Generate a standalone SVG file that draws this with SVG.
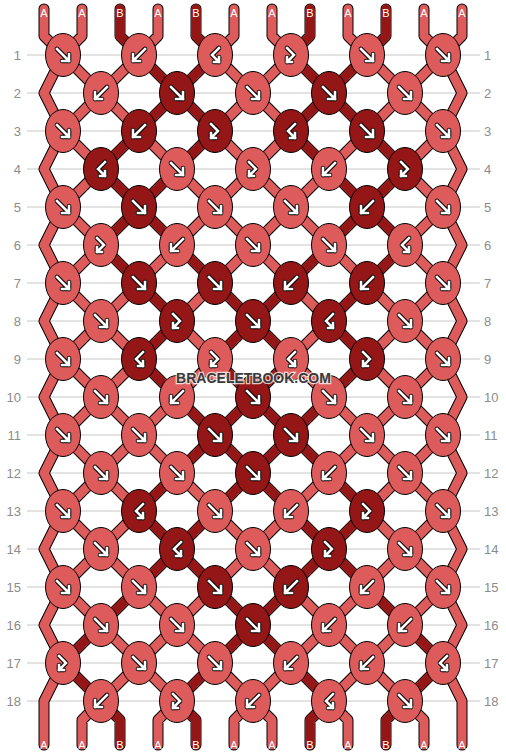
<svg xmlns="http://www.w3.org/2000/svg" xmlns:xlink="http://www.w3.org/1999/xlink" width="506" height="756" viewBox="0 0 506 756">
<style>
.grid line{stroke:#c6c6c6;stroke-width:1}
.rn{font-family:"Liberation Sans",Arial,sans-serif;font-size:13px;fill:#8c8c8c}
.rl{text-anchor:end}
.thr{fill:none;stroke-linecap:round;stroke-linejoin:round}
.o{stroke:#000;stroke-width:11}
.a{stroke:#de5b5b;stroke-width:9}
.b{stroke:#951616;stroke-width:9}
.ab{fill:none;stroke:#000;stroke-width:4.6;stroke-linecap:round;stroke-linejoin:round}
.aw{fill:none;stroke:#fff;stroke-width:2.6;stroke-linecap:square;stroke-linejoin:miter}
.lb{font-family:"Liberation Sans",Arial,sans-serif;font-size:11px;fill:#fff;text-anchor:middle}
.wm{font-family:"Liberation Sans",Arial,sans-serif;font-size:14px;font-weight:bold;fill:#3a3a3a;stroke:#fff;stroke-opacity:.75;stroke-width:2.5;paint-order:stroke;text-anchor:middle}
</style>
<defs>
<ellipse id="ea" rx="17.5" ry="21.5" fill="#de5b5b" stroke="#000" stroke-width="1"/>
<ellipse id="eb" rx="17.5" ry="21.5" fill="#951616" stroke="#000" stroke-width="1"/>
<path id="pF" d="M-6,-6L6,6M6,-1V6H-1"/>
<path id="pB" d="M6,-6L-6,6M-6,-1V6H1"/>
<path id="pFB" d="M-4,-7L3,0L-4,7M-4,2V7H1"/>
<path id="pBF" d="M4,-7L-3,0L4,7M4,2V7H-1"/>
<g id="F"><use href="#pF" class="ab"/><use href="#pF" class="aw"/></g>
<g id="B"><use href="#pB" class="ab"/><use href="#pB" class="aw"/></g>
<g id="FB"><use href="#pFB" class="ab"/><use href="#pFB" class="aw"/></g>
<g id="BF"><use href="#pBF" class="ab"/><use href="#pBF" class="aw"/></g>
<path id="all" d="M44,9V36L63,55L82,36V9M120,9V36L139,55L158,36V9M196,9V36L215,55L234,36V9M272,9V36L291,55L310,36V9M348,9V36L367,55L386,36V9M424,9V36L443,55L462,36V9
M44,93L63,55L101,93L139,55L177,93L215,55L253,93L291,55L329,93L367,55L405,93L443,55L462,93
M44,93L63,131L101,93L139,131L177,93L215,131L253,93L291,131L329,93L367,131L405,93L443,131L462,93
M44,169L63,131L101,169L139,131L177,169L215,131L253,169L291,131L329,169L367,131L405,169L443,131L462,169
M44,169L63,207L101,169L139,207L177,169L215,207L253,169L291,207L329,169L367,207L405,169L443,207L462,169
M44,245L63,207L101,245L139,207L177,245L215,207L253,245L291,207L329,245L367,207L405,245L443,207L462,245
M44,245L63,283L101,245L139,283L177,245L215,283L253,245L291,283L329,245L367,283L405,245L443,283L462,245
M44,321L63,283L101,321L139,283L177,321L215,283L253,321L291,283L329,321L367,283L405,321L443,283L462,321
M44,321L63,359L101,321L139,359L177,321L215,359L253,321L291,359L329,321L367,359L405,321L443,359L462,321
M44,397L63,359L101,397L139,359L177,397L215,359L253,397L291,359L329,397L367,359L405,397L443,359L462,397
M44,397L63,435L101,397L139,435L177,397L215,435L253,397L291,435L329,397L367,435L405,397L443,435L462,397
M44,473L63,435L101,473L139,435L177,473L215,435L253,473L291,435L329,473L367,435L405,473L443,435L462,473
M44,473L63,511L101,473L139,511L177,473L215,511L253,473L291,511L329,473L367,511L405,473L443,511L462,473
M44,549L63,511L101,549L139,511L177,549L215,511L253,549L291,511L329,549L367,511L405,549L443,511L462,549
M44,549L63,587L101,549L139,587L177,549L215,587L253,549L291,587L329,549L367,587L405,549L443,587L462,549
M44,625L63,587L101,625L139,587L177,625L215,587L253,625L291,587L329,625L367,587L405,625L443,587L462,625
M44,625L63,663L101,625L139,663L177,625L215,663L253,625L291,663L329,625L367,663L405,625L443,663L462,625
M44,701L63,663L101,701L139,663L177,701L215,663L253,701L291,663L329,701L367,663L405,701L443,663L462,701
M44,701V745M82,745V720L101,701L120,720V745M158,745V720L177,701L196,720V745M234,745V720L253,701L272,720V745M310,745V720L329,701L348,720V745M386,745V720L405,701L424,720V745M462,701V745"/>
</defs>
<g class="grid">
<line x1="27" y1="55" x2="480" y2="55"/><line x1="27" y1="93" x2="480" y2="93"/><line x1="27" y1="131" x2="480" y2="131"/><line x1="27" y1="169" x2="480" y2="169"/><line x1="27" y1="207" x2="480" y2="207"/><line x1="27" y1="245" x2="480" y2="245"/><line x1="27" y1="283" x2="480" y2="283"/><line x1="27" y1="321" x2="480" y2="321"/><line x1="27" y1="359" x2="480" y2="359"/><line x1="27" y1="397" x2="480" y2="397"/><line x1="27" y1="435" x2="480" y2="435"/><line x1="27" y1="473" x2="480" y2="473"/><line x1="27" y1="511" x2="480" y2="511"/><line x1="27" y1="549" x2="480" y2="549"/><line x1="27" y1="587" x2="480" y2="587"/><line x1="27" y1="625" x2="480" y2="625"/><line x1="27" y1="663" x2="480" y2="663"/><line x1="27" y1="701" x2="480" y2="701"/>
</g>
<g id="row-numbers">
<text class="rn rl" x="21" y="59.5">1</text><text class="rn rl" x="21" y="97.5">2</text><text class="rn rl" x="21" y="135.5">3</text><text class="rn rl" x="21" y="173.5">4</text><text class="rn rl" x="21" y="211.5">5</text><text class="rn rl" x="21" y="249.5">6</text><text class="rn rl" x="21" y="287.5">7</text><text class="rn rl" x="21" y="325.5">8</text><text class="rn rl" x="21" y="363.5">9</text><text class="rn rl" x="21" y="401.5">10</text><text class="rn rl" x="21" y="439.5">11</text><text class="rn rl" x="21" y="477.5">12</text><text class="rn rl" x="21" y="515.5">13</text><text class="rn rl" x="21" y="553.5">14</text><text class="rn rl" x="21" y="591.5">15</text><text class="rn rl" x="21" y="629.5">16</text><text class="rn rl" x="21" y="667.5">17</text><text class="rn rl" x="21" y="705.5">18</text>
<text class="rn" x="484" y="59.5">1</text><text class="rn" x="484" y="97.5">2</text><text class="rn" x="484" y="135.5">3</text><text class="rn" x="484" y="173.5">4</text><text class="rn" x="484" y="211.5">5</text><text class="rn" x="484" y="249.5">6</text><text class="rn" x="484" y="287.5">7</text><text class="rn" x="484" y="325.5">8</text><text class="rn" x="484" y="363.5">9</text><text class="rn" x="484" y="401.5">10</text><text class="rn" x="484" y="439.5">11</text><text class="rn" x="484" y="477.5">12</text><text class="rn" x="484" y="515.5">13</text><text class="rn" x="484" y="553.5">14</text><text class="rn" x="484" y="591.5">15</text><text class="rn" x="484" y="629.5">16</text><text class="rn" x="484" y="667.5">17</text><text class="rn" x="484" y="705.5">18</text>
</g>
<g id="connectors">
<use href="#all" class="thr o"/>
<use href="#all" class="thr a"/>
<path class="thr b" d="M120,9V36L139,55M196,9V36L215,55M310,9V36L291,55M386,9V36L367,55
M139,55L177,93L215,55M291,55L329,93L367,55
M139,131L177,93L215,131M291,131L329,93L367,131
M139,131L101,169M215,131L177,169M291,131L329,169M367,131L405,169
M101,169L139,207L177,169M329,169L367,207L405,169
M101,245L139,207L177,245M329,245L367,207L405,245
M101,245L139,283M177,245L215,283M329,245L291,283M405,245L367,283
M139,283L177,321M215,283L253,321L291,283M367,283L329,321
M177,321L139,359M215,359L253,321L291,359M329,321L367,359
M139,359L177,397M215,359L253,397L291,359M367,359L329,397
M177,397L215,435L253,397L291,435L329,397
M177,473L215,435L253,473L291,435L329,473
M177,473L139,511M215,511L253,473L291,511M329,473L367,511
M139,511L177,549L215,511M291,511L329,549L367,511
M139,587L177,549L215,587M291,587L329,549L367,587
M139,587L101,625M215,587L253,625L291,587M367,587L405,625
M101,625L63,663M215,663L253,625L291,663M405,625L443,663
M63,663L101,701M215,663L177,701M291,663L329,701M443,663L405,701
M101,701L120,720V745M177,701L196,720V745M329,701L310,720V745M405,701L386,720V745"/>
</g>
<g id="knots">
<g id="k1-1" transform="translate(63,55)"><use href="#ea"/><use href="#F"/></g>
<g id="k1-2" transform="translate(139,55)"><use href="#ea"/><use href="#B"/></g>
<g id="k1-3" transform="translate(215,55)"><use href="#ea"/><use href="#BF"/></g>
<g id="k1-4" transform="translate(291,55)"><use href="#ea"/><use href="#FB"/></g>
<g id="k1-5" transform="translate(367,55)"><use href="#ea"/><use href="#F"/></g>
<g id="k1-6" transform="translate(443,55)"><use href="#ea"/><use href="#F"/></g>
<g id="k2-1" transform="translate(101,93)"><use href="#ea"/><use href="#B"/></g>
<g id="k2-2" transform="translate(177,93)"><use href="#eb"/><use href="#F"/></g>
<g id="k2-3" transform="translate(253,93)"><use href="#ea"/><use href="#F"/></g>
<g id="k2-4" transform="translate(329,93)"><use href="#eb"/><use href="#F"/></g>
<g id="k2-5" transform="translate(405,93)"><use href="#ea"/><use href="#F"/></g>
<g id="k3-1" transform="translate(63,131)"><use href="#ea"/><use href="#F"/></g>
<g id="k3-2" transform="translate(139,131)"><use href="#eb"/><use href="#B"/></g>
<g id="k3-3" transform="translate(215,131)"><use href="#eb"/><use href="#FB"/></g>
<g id="k3-4" transform="translate(291,131)"><use href="#eb"/><use href="#BF"/></g>
<g id="k3-5" transform="translate(367,131)"><use href="#eb"/><use href="#F"/></g>
<g id="k3-6" transform="translate(443,131)"><use href="#ea"/><use href="#F"/></g>
<g id="k4-1" transform="translate(101,169)"><use href="#eb"/><use href="#BF"/></g>
<g id="k4-2" transform="translate(177,169)"><use href="#ea"/><use href="#F"/></g>
<g id="k4-3" transform="translate(253,169)"><use href="#ea"/><use href="#FB"/></g>
<g id="k4-4" transform="translate(329,169)"><use href="#ea"/><use href="#B"/></g>
<g id="k4-5" transform="translate(405,169)"><use href="#eb"/><use href="#FB"/></g>
<g id="k5-1" transform="translate(63,207)"><use href="#ea"/><use href="#F"/></g>
<g id="k5-2" transform="translate(139,207)"><use href="#eb"/><use href="#F"/></g>
<g id="k5-3" transform="translate(215,207)"><use href="#ea"/><use href="#F"/></g>
<g id="k5-4" transform="translate(291,207)"><use href="#ea"/><use href="#F"/></g>
<g id="k5-5" transform="translate(367,207)"><use href="#eb"/><use href="#B"/></g>
<g id="k5-6" transform="translate(443,207)"><use href="#ea"/><use href="#F"/></g>
<g id="k6-1" transform="translate(101,245)"><use href="#ea"/><use href="#FB"/></g>
<g id="k6-2" transform="translate(177,245)"><use href="#ea"/><use href="#B"/></g>
<g id="k6-3" transform="translate(253,245)"><use href="#ea"/><use href="#F"/></g>
<g id="k6-4" transform="translate(329,245)"><use href="#ea"/><use href="#F"/></g>
<g id="k6-5" transform="translate(405,245)"><use href="#ea"/><use href="#BF"/></g>
<g id="k7-1" transform="translate(63,283)"><use href="#ea"/><use href="#F"/></g>
<g id="k7-2" transform="translate(139,283)"><use href="#eb"/><use href="#F"/></g>
<g id="k7-3" transform="translate(215,283)"><use href="#eb"/><use href="#F"/></g>
<g id="k7-4" transform="translate(291,283)"><use href="#eb"/><use href="#B"/></g>
<g id="k7-5" transform="translate(367,283)"><use href="#eb"/><use href="#B"/></g>
<g id="k7-6" transform="translate(443,283)"><use href="#ea"/><use href="#F"/></g>
<g id="k8-1" transform="translate(101,321)"><use href="#ea"/><use href="#F"/></g>
<g id="k8-2" transform="translate(177,321)"><use href="#eb"/><use href="#FB"/></g>
<g id="k8-3" transform="translate(253,321)"><use href="#eb"/><use href="#F"/></g>
<g id="k8-4" transform="translate(329,321)"><use href="#eb"/><use href="#BF"/></g>
<g id="k8-5" transform="translate(405,321)"><use href="#ea"/><use href="#F"/></g>
<g id="k9-1" transform="translate(63,359)"><use href="#ea"/><use href="#F"/></g>
<g id="k9-2" transform="translate(139,359)"><use href="#eb"/><use href="#BF"/></g>
<g id="k9-3" transform="translate(215,359)"><use href="#ea"/><use href="#FB"/></g>
<g id="k9-4" transform="translate(291,359)"><use href="#ea"/><use href="#BF"/></g>
<g id="k9-5" transform="translate(367,359)"><use href="#eb"/><use href="#FB"/></g>
<g id="k9-6" transform="translate(443,359)"><use href="#ea"/><use href="#F"/></g>
<g id="k10-1" transform="translate(101,397)"><use href="#ea"/><use href="#F"/></g>
<g id="k10-2" transform="translate(177,397)"><use href="#ea"/><use href="#B"/></g>
<g id="k10-3" transform="translate(253,397)"><use href="#eb"/><use href="#F"/></g>
<g id="k10-4" transform="translate(329,397)"><use href="#ea"/><use href="#F"/></g>
<g id="k10-5" transform="translate(405,397)"><use href="#ea"/><use href="#F"/></g>
<g id="k11-1" transform="translate(63,435)"><use href="#ea"/><use href="#F"/></g>
<g id="k11-2" transform="translate(139,435)"><use href="#ea"/><use href="#F"/></g>
<g id="k11-3" transform="translate(215,435)"><use href="#eb"/><use href="#F"/></g>
<g id="k11-4" transform="translate(291,435)"><use href="#eb"/><use href="#F"/></g>
<g id="k11-5" transform="translate(367,435)"><use href="#ea"/><use href="#F"/></g>
<g id="k11-6" transform="translate(443,435)"><use href="#ea"/><use href="#F"/></g>
<g id="k12-1" transform="translate(101,473)"><use href="#ea"/><use href="#F"/></g>
<g id="k12-2" transform="translate(177,473)"><use href="#ea"/><use href="#F"/></g>
<g id="k12-3" transform="translate(253,473)"><use href="#eb"/><use href="#F"/></g>
<g id="k12-4" transform="translate(329,473)"><use href="#ea"/><use href="#B"/></g>
<g id="k12-5" transform="translate(405,473)"><use href="#ea"/><use href="#F"/></g>
<g id="k13-1" transform="translate(63,511)"><use href="#ea"/><use href="#F"/></g>
<g id="k13-2" transform="translate(139,511)"><use href="#eb"/><use href="#BF"/></g>
<g id="k13-3" transform="translate(215,511)"><use href="#ea"/><use href="#F"/></g>
<g id="k13-4" transform="translate(291,511)"><use href="#ea"/><use href="#B"/></g>
<g id="k13-5" transform="translate(367,511)"><use href="#eb"/><use href="#FB"/></g>
<g id="k13-6" transform="translate(443,511)"><use href="#ea"/><use href="#F"/></g>
<g id="k14-1" transform="translate(101,549)"><use href="#ea"/><use href="#F"/></g>
<g id="k14-2" transform="translate(177,549)"><use href="#eb"/><use href="#BF"/></g>
<g id="k14-3" transform="translate(253,549)"><use href="#ea"/><use href="#F"/></g>
<g id="k14-4" transform="translate(329,549)"><use href="#eb"/><use href="#FB"/></g>
<g id="k14-5" transform="translate(405,549)"><use href="#ea"/><use href="#F"/></g>
<g id="k15-1" transform="translate(63,587)"><use href="#ea"/><use href="#F"/></g>
<g id="k15-2" transform="translate(139,587)"><use href="#ea"/><use href="#F"/></g>
<g id="k15-3" transform="translate(215,587)"><use href="#eb"/><use href="#F"/></g>
<g id="k15-4" transform="translate(291,587)"><use href="#eb"/><use href="#B"/></g>
<g id="k15-5" transform="translate(367,587)"><use href="#ea"/><use href="#B"/></g>
<g id="k15-6" transform="translate(443,587)"><use href="#ea"/><use href="#F"/></g>
<g id="k16-1" transform="translate(101,625)"><use href="#ea"/><use href="#F"/></g>
<g id="k16-2" transform="translate(177,625)"><use href="#ea"/><use href="#F"/></g>
<g id="k16-3" transform="translate(253,625)"><use href="#eb"/><use href="#F"/></g>
<g id="k16-4" transform="translate(329,625)"><use href="#ea"/><use href="#B"/></g>
<g id="k16-5" transform="translate(405,625)"><use href="#ea"/><use href="#B"/></g>
<g id="k17-1" transform="translate(63,663)"><use href="#ea"/><use href="#FB"/></g>
<g id="k17-2" transform="translate(139,663)"><use href="#ea"/><use href="#F"/></g>
<g id="k17-3" transform="translate(215,663)"><use href="#ea"/><use href="#F"/></g>
<g id="k17-4" transform="translate(291,663)"><use href="#ea"/><use href="#B"/></g>
<g id="k17-5" transform="translate(367,663)"><use href="#ea"/><use href="#B"/></g>
<g id="k17-6" transform="translate(443,663)"><use href="#ea"/><use href="#BF"/></g>
<g id="k18-1" transform="translate(101,701)"><use href="#ea"/><use href="#B"/></g>
<g id="k18-2" transform="translate(177,701)"><use href="#ea"/><use href="#FB"/></g>
<g id="k18-3" transform="translate(253,701)"><use href="#ea"/><use href="#B"/></g>
<g id="k18-4" transform="translate(329,701)"><use href="#ea"/><use href="#BF"/></g>
<g id="k18-5" transform="translate(405,701)"><use href="#ea"/><use href="#F"/></g>
</g>
<g id="string-labels">
<text class="lb" x="44" y="17">A</text><text class="lb" x="82" y="17">A</text><text class="lb" x="120" y="17">B</text><text class="lb" x="158" y="17">A</text><text class="lb" x="196" y="17">B</text><text class="lb" x="234" y="17">A</text><text class="lb" x="272" y="17">A</text><text class="lb" x="310" y="17">B</text><text class="lb" x="348" y="17">A</text><text class="lb" x="386" y="17">B</text><text class="lb" x="424" y="17">A</text><text class="lb" x="462" y="17">A</text>
<text class="lb" x="44" y="749">A</text><text class="lb" x="82" y="749">A</text><text class="lb" x="120" y="749">B</text><text class="lb" x="158" y="749">A</text><text class="lb" x="196" y="749">B</text><text class="lb" x="234" y="749">A</text><text class="lb" x="272" y="749">A</text><text class="lb" x="310" y="749">B</text><text class="lb" x="348" y="749">A</text><text class="lb" x="386" y="749">B</text><text class="lb" x="424" y="749">A</text><text class="lb" x="462" y="749">A</text>
</g>
<text class="wm" x="253.5" y="383">BRACELETBOOK.COM</text>
</svg>
